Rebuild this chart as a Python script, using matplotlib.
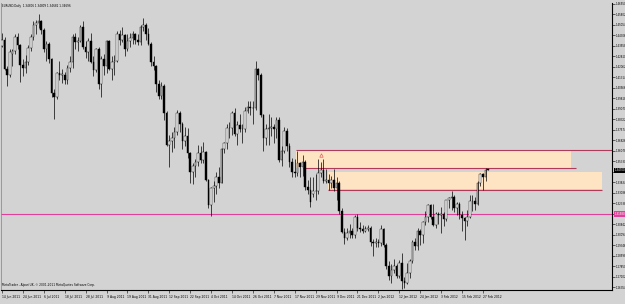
import matplotlib
matplotlib.use("Agg")
import matplotlib.pyplot as plt
from matplotlib.patches import Rectangle
from matplotlib.transforms import blended_transform_factory

# EURUSD daily bars, 14 Jun 2011 .. 29 Feb 2012
opens = [1.4355, 1.4400, 1.4190, 1.4150, 1.4300, 1.4320, 1.4420, 1.4360, 1.4220, 1.4200,
         1.4240, 1.4340, 1.4420, 1.4500, 1.4520, 1.4530, 1.4470, 1.4330, 1.4370, 1.4260,
         1.4020, 1.3990, 1.4160, 1.4150, 1.4150, 1.4110, 1.4200, 1.4240, 1.4420, 1.4380,
         1.4390, 1.4490, 1.4350, 1.4310, 1.4390, 1.4240, 1.4180, 1.4330, 1.4080, 1.4260,
         1.4210, 1.4390, 1.4190, 1.4240, 1.4250, 1.4440, 1.4400, 1.4430, 1.4330, 1.4390,
         1.4410, 1.4440, 1.4400, 1.4380, 1.4490, 1.4500, 1.4440, 1.4370, 1.4240, 1.4210,
         1.4080, 1.4000, 1.4070, 1.3880, 1.3650, 1.3680, 1.3700, 1.3740, 1.3880, 1.3800,
         1.3680, 1.3710, 1.3590, 1.3460, 1.3500, 1.3530, 1.3590, 1.3540, 1.3600, 1.3400,
         1.3220, 1.3340, 1.3360, 1.3420, 1.3380, 1.3620, 1.3660, 1.3770, 1.3770, 1.3880,
         1.3730, 1.3790, 1.3760, 1.3760, 1.3890, 1.3920, 1.3910, 1.3910, 1.4190, 1.4150,
         1.3860, 1.3700, 1.3760, 1.3770, 1.3780, 1.3760, 1.3830, 1.3540, 1.3610, 1.3750,
         1.3640, 1.3530, 1.3460, 1.3450, 1.3520, 1.3490, 1.3530, 1.3350, 1.3330, 1.3300,
         1.3320, 1.3320, 1.3450, 1.3470, 1.3390, 1.3400, 1.3380, 1.3400, 1.3340, 1.3380,
         1.3180, 1.3030, 1.2990, 1.3020, 1.3040, 1.3010, 1.3140, 1.3060, 1.3050, 1.3040,
         1.3050, 1.3060, 1.2960, 1.2950, 1.2960, 1.2950, 1.3050, 1.2940, 1.2790, 1.2720,
         1.2760, 1.2790, 1.2720, 1.2810, 1.2680, 1.2670, 1.2740, 1.2820, 1.2960, 1.2930,
         1.3040, 1.3010, 1.3100, 1.3140, 1.3220, 1.3140, 1.3080, 1.3160, 1.3150, 1.3160,
         1.3120, 1.3260, 1.3270, 1.3280, 1.3200, 1.3230, 1.3150, 1.3130, 1.3110, 1.3140,
         1.3250, 1.3250, 1.3230, 1.3380, 1.3440, 1.3420, 1.3481]
highs = [1.4448, 1.4420, 1.4210, 1.4330, 1.4330, 1.4440, 1.4450, 1.4370, 1.4260, 1.4290,
         1.4360, 1.4440, 1.4530, 1.4540, 1.4580, 1.4540, 1.4480, 1.4390, 1.4380, 1.4270,
         1.4050, 1.4170, 1.4250, 1.4190, 1.4170, 1.4220, 1.4280, 1.4440, 1.4450, 1.4420,
         1.4500, 1.4530, 1.4390, 1.4410, 1.4450, 1.4280, 1.4340, 1.4350, 1.4280, 1.4300,
         1.4400, 1.4400, 1.4280, 1.4290, 1.4460, 1.4470, 1.4490, 1.4440, 1.4440, 1.4450,
         1.4460, 1.4450, 1.4440, 1.4500, 1.4550, 1.4520, 1.4480, 1.4380, 1.4280, 1.4220,
         1.4110, 1.4100, 1.4080, 1.3890, 1.3720, 1.3740, 1.3780, 1.3900, 1.3890, 1.3810,
         1.3780, 1.3770, 1.3600, 1.3520, 1.3550, 1.3650, 1.3640, 1.3670, 1.3610, 1.3410,
         1.3350, 1.3390, 1.3460, 1.3490, 1.3630, 1.3670, 1.3800, 1.3810, 1.3890, 1.3910,
         1.3820, 1.3870, 1.3800, 1.3920, 1.3960, 1.3960, 1.3960, 1.4247, 1.4200, 1.4160,
         1.3870, 1.3800, 1.3870, 1.3850, 1.3800, 1.3850, 1.3850, 1.3640, 1.3780, 1.3770,
         1.3660, 1.3560, 1.3550, 1.3610, 1.3530, 1.3580, 1.3540, 1.3400, 1.3420, 1.3420,
         1.3440, 1.3550, 1.3530, 1.3550, 1.3480, 1.3440, 1.3430, 1.3480, 1.3420, 1.3390,
         1.3200, 1.3060, 1.3060, 1.3090, 1.3060, 1.3150, 1.3160, 1.3100, 1.3080, 1.3070,
         1.3080, 1.3070, 1.2980, 1.2990, 1.2980, 1.3080, 1.3060, 1.2950, 1.2820, 1.2800,
         1.2840, 1.2800, 1.2830, 1.2880, 1.2710, 1.2810, 1.2840, 1.2970, 1.2990, 1.3060,
         1.3050, 1.3110, 1.3180, 1.3230, 1.3230, 1.3230, 1.3170, 1.3170, 1.3210, 1.3170,
         1.3260, 1.3280, 1.3320, 1.3290, 1.3240, 1.3240, 1.3180, 1.3140, 1.3190, 1.3290,
         1.3290, 1.3280, 1.3390, 1.3450, 1.3450, 1.3486, 1.3481]
lows = [1.4350, 1.4180, 1.4070, 1.4130, 1.4210, 1.4300, 1.4330, 1.4100, 1.4140, 1.4160,
        1.4220, 1.4320, 1.4400, 1.4440, 1.4480, 1.4440, 1.4310, 1.4250, 1.4230, 1.3990,
        1.3837, 1.3980, 1.4110, 1.4090, 1.4080, 1.4080, 1.4170, 1.4200, 1.4330, 1.4320,
        1.4380, 1.4330, 1.4270, 1.4250, 1.4230, 1.4140, 1.4170, 1.4050, 1.3990, 1.4150,
        1.4160, 1.4180, 1.4110, 1.4150, 1.4240, 1.4360, 1.4380, 1.4280, 1.4320, 1.4350,
        1.4370, 1.4370, 1.4360, 1.4360, 1.4460, 1.4400, 1.4360, 1.4210, 1.4180, 1.4030,
        1.3980, 1.3980, 1.3830, 1.3640, 1.3494, 1.3600, 1.3630, 1.3720, 1.3740, 1.3620,
        1.3640, 1.3560, 1.3380, 1.3370, 1.3420, 1.3500, 1.3520, 1.3520, 1.3390, 1.3200,
        1.3145, 1.3240, 1.3300, 1.3340, 1.3380, 1.3590, 1.3620, 1.3700, 1.3720, 1.3710,
        1.3650, 1.3740, 1.3660, 1.3740, 1.3880, 1.3860, 1.3800, 1.3900, 1.4110, 1.3850,
        1.3610, 1.3650, 1.3650, 1.3710, 1.3660, 1.3700, 1.3530, 1.3500, 1.3590, 1.3610,
        1.3490, 1.3420, 1.3420, 1.3430, 1.3420, 1.3430, 1.3330, 1.3300, 1.3210, 1.3280,
        1.3260, 1.3300, 1.3420, 1.3380, 1.3380, 1.3330, 1.3340, 1.3320, 1.3260, 1.3160,
        1.3020, 1.2945, 1.2970, 1.2990, 1.2990, 1.2990, 1.3040, 1.3030, 1.3020, 1.3030,
        1.3040, 1.2930, 1.2860, 1.2920, 1.2920, 1.2930, 1.2920, 1.2770, 1.2690, 1.2670,
        1.2740, 1.2700, 1.2700, 1.2624, 1.2630, 1.2660, 1.2700, 1.2810, 1.2900, 1.2900,
        1.2940, 1.2950, 1.3080, 1.3100, 1.3120, 1.3070, 1.3060, 1.3090, 1.3020, 1.3070,
        1.3110, 1.3200, 1.3190, 1.3170, 1.3150, 1.3120, 1.3040, 1.2973, 1.3070, 1.3130,
        1.3180, 1.3190, 1.3220, 1.3360, 1.3330, 1.3390, 1.3468]
closes = [1.4400, 1.4190, 1.4150, 1.4310, 1.4320, 1.4420, 1.4360, 1.4220, 1.4200, 1.4240,
          1.4340, 1.4420, 1.4500, 1.4520, 1.4530, 1.4470, 1.4330, 1.4370, 1.4260, 1.4020,
          1.3990, 1.4160, 1.4150, 1.4150, 1.4110, 1.4200, 1.4240, 1.4420, 1.4380, 1.4390,
          1.4490, 1.4350, 1.4310, 1.4390, 1.4240, 1.4180, 1.4330, 1.4080, 1.4260, 1.4210,
          1.4390, 1.4190, 1.4240, 1.4250, 1.4440, 1.4400, 1.4430, 1.4330, 1.4390, 1.4410,
          1.4440, 1.4400, 1.4380, 1.4490, 1.4500, 1.4440, 1.4370, 1.4240, 1.4210, 1.4080,
          1.4000, 1.4070, 1.3880, 1.3650, 1.3680, 1.3700, 1.3740, 1.3880, 1.3800, 1.3680,
          1.3710, 1.3590, 1.3460, 1.3500, 1.3530, 1.3590, 1.3540, 1.3600, 1.3400, 1.3220,
          1.3340, 1.3360, 1.3420, 1.3380, 1.3620, 1.3660, 1.3770, 1.3770, 1.3880, 1.3730,
          1.3790, 1.3760, 1.3760, 1.3890, 1.3920, 1.3910, 1.3910, 1.4190, 1.4150, 1.3860,
          1.3700, 1.3760, 1.3770, 1.3780, 1.3760, 1.3830, 1.3540, 1.3610, 1.3750, 1.3640,
          1.3530, 1.3460, 1.3450, 1.3520, 1.3490, 1.3530, 1.3350, 1.3330, 1.3240, 1.3320,
          1.3320, 1.3450, 1.3470, 1.3390, 1.3400, 1.3380, 1.3400, 1.3340, 1.3380, 1.3180,
          1.3030, 1.2990, 1.3020, 1.3040, 1.3010, 1.3140, 1.3060, 1.3050, 1.3040, 1.3050,
          1.3060, 1.2960, 1.2950, 1.2960, 1.2950, 1.3050, 1.2940, 1.2790, 1.2720, 1.2760,
          1.2790, 1.2720, 1.2810, 1.2680, 1.2670, 1.2740, 1.2820, 1.2960, 1.2930, 1.3040,
          1.3010, 1.3100, 1.3140, 1.3220, 1.3140, 1.3080, 1.3160, 1.3150, 1.3160, 1.3120,
          1.3260, 1.3270, 1.3280, 1.3200, 1.3230, 1.3150, 1.3130, 1.3110, 1.3140, 1.3250,
          1.3250, 1.3230, 1.3380, 1.3440, 1.3420, 1.3470, 1.3470]

date_labels = ["14 Jun 2011", "24 Jun 2011", "6 Jul 2011", "18 Jul 2011", "28 Jul 2011",
               "9 Aug 2011", "19 Aug 2011", "31 Aug 2011", "12 Sep 2011", "22 Sep 2011",
               "4 Oct 2011", "14 Oct 2011", "26 Oct 2011", "7 Nov 2011", "17 Nov 2011",
               "29 Nov 2011", "9 Dec 2011", "21 Dec 2011", "2 Jan 2012", "12 Jan 2012",
               "24 Jan 2012", "3 Feb 2012", "15 Feb 2012", "27 Feb 2012"]
label_step = 8

# drawn objects: zones (bar from, bar to, price bottom, price top) and lines
zones = [(112.5, 217.7, 1.3484, 1.3608), (124.7, 229.5, 1.3333, 1.3454)]
zone_lines = [(112.5, 240.0, 1.3614), (115.1, 219.6, 1.3482), (124.7, 229.5, 1.3332)]
support_level = 1.3158
arrow_bar, arrow_price = 122, 1.3580

title = "EURUSD,Daily  1.34806 1.34809 1.34682 1.34696"
footer = "MetaTrader - Alpari UK, \u00a9 2001-2011 MetaQuotes Software Corp."

bg = "#d3d3d3"
fig = plt.figure(figsize=(6.25, 3.04), dpi=100, facecolor=bg)
ax = fig.add_axes([1 / 625, 14 / 304, 611 / 625, 287 / 304], facecolor=bg)

n = len(closes)
idx = list(range(n))
ax.set_xlim(-0.38, 233.4)
ymin, ymax = 1.2617, 1.4660
ax.set_ylim(ymin, ymax)

for (x0, x1, p0, p1) in zones:
    ax.add_patch(Rectangle((x0, p0), x1 - x0, p1 - p0, facecolor="#ffe4c4",
                           edgecolor="none", zorder=1))
for (x0, x1, p) in zone_lines:
    ax.hlines(p, x0, x1, colors="#b03a5a", linewidth=0.8, zorder=2)
ax.axhline(support_level, color="#e0409a", linewidth=0.8, zorder=2)

# candles
ax.vlines(idx, lows, highs, colors="black", linewidth=0.5, zorder=3)
for i in idx:
    o, c = opens[i], closes[i]
    lo, hgt = min(o, c), max(abs(c - o), 0.00015)
    up = c >= o
    ax.bar(i, hgt, bottom=lo, width=0.62, color="white" if up else "black",
           edgecolor="black", linewidth=0.3, zorder=4)

ax.plot(arrow_bar, arrow_price, marker="^", markersize=2.5, markerfacecolor="none",
        markeredgecolor="#e06060", markeredgewidth=0.5, zorder=5)

# axes styling
ax.spines["top"].set_visible(False)
ax.spines["left"].set_color("#909090")
ax.spines["left"].set_linewidth(0.6)
ax.spines["right"].set_linewidth(0.8)
ax.spines["bottom"].set_linewidth(0.8)

# price scale on the right; the two marked prices cover their neighbours
ax.yaxis.tick_right()
step = 0.00748
yt = []
v = 1.4655
while v > ymin:
    yt.append(v)
    v -= step
marked = [closes[-1], support_level]
ax.set_yticks(yt)
ax.set_yticklabels(["" if min(abs(t - m) for m in marked) < 0.004 else f"{t:.5f}"
                    for t in yt])
ax.tick_params(axis="y", length=2, width=0.4, pad=0.6, labelsize=1.9, colors="black")

ax.set_xticks([k * label_step for k in range(len(date_labels))])
ax.set_xticklabels(date_labels, ha="left")
ax.tick_params(axis="x", length=2.5, width=0.4, pad=1.2, labelsize=2.2)

tr = blended_transform_factory(ax.transAxes, ax.transData)
ax.text(1.004, closes[-1], f"{closes[-1]:.5f}", transform=tr, fontsize=1.9, color="white",
        va="center", ha="left", bbox=dict(facecolor="black", edgecolor="none", pad=0.4),
        clip_on=False, zorder=6)
ax.text(1.004, support_level, f"{support_level:.5f}", transform=tr, fontsize=1.9,
        color="white", va="center", ha="left",
        bbox=dict(facecolor="#e0409a", edgecolor="none", pad=0.4), clip_on=False, zorder=6)

ax.text(0.002, 0.995, title, transform=ax.transAxes, fontsize=2.0, va="top", ha="left")
ax.text(0.002, 0.012, footer, transform=ax.transAxes, fontsize=2.1, va="bottom", ha="left")

fig.savefig("out.png", dpi=100, facecolor=bg)
